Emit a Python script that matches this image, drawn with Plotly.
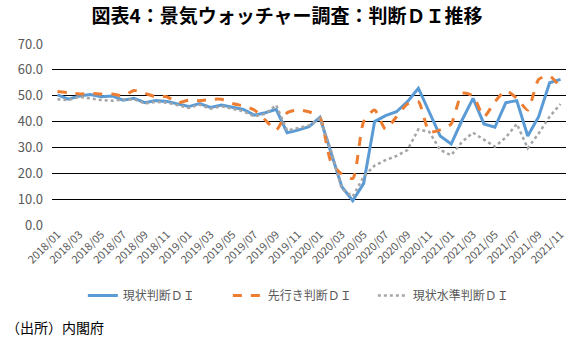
import plotly.graph_objects as go

months = [f"{y}/{m:02d}" for y in range(2018, 2022) for m in range(1, 13)][:47]

current_di = [50.3, 48.7, 49.9, 50.5, 49.6, 49.9, 48.3, 49.0, 47.3, 48.1, 47.8, 46.8,
              45.8, 47.0, 45.5, 46.4, 45.5, 44.7, 42.5, 43.4, 44.7, 35.7, 36.7, 38.0,
              41.6, 28.5, 14.8, 9.4, 16.1, 40.0, 42.3, 43.8, 47.7, 52.9, 43.7, 34.4,
              31.3, 40.6, 49.0, 39.1, 37.8, 47.3, 48.1, 34.4, 41.9, 55.0, 56.3]

future_di = [51.6, 51.2, 50.7, 50.9, 50.7, 50.7, 49.9, 52.0, 50.9, 49.6, 49.6, 47.3,
             48.3, 48.1, 48.6, 48.6, 47.0, 46.0, 44.5, 40.6, 36.7, 43.4, 44.5, 43.8,
             41.6, 24.5, 19.7, 18.0, 40.0, 44.5, 37.0, 41.9, 46.8, 47.7, 36.0, 36.8,
             39.1, 50.9, 49.9, 41.9, 47.7, 51.9, 49.0, 44.5, 56.3, 57.6, 53.2]

level_di = [48.6, 48.3, 49.6, 49.0, 48.3, 48.1, 48.5, 48.6, 47.0, 47.6, 47.3, 46.3,
            45.3, 46.5, 45.0, 45.9, 45.0, 44.0, 42.0, 43.0, 46.4, 36.5, 37.5, 38.5,
            41.2, 29.0, 14.0, 11.0, 18.7, 23.0, 25.1, 26.7, 29.0, 37.0, 36.0, 29.0,
            27.0, 32.2, 35.7, 32.9, 30.3, 33.9, 39.1, 29.7, 35.4, 41.9, 46.8]

tick_labels = months[::2]

fig = go.Figure()
fig.add_trace(go.Scatter(x=months, y=current_di, mode="lines", name="現状判断ＤＩ",
                         line=dict(color="#5B9BD5", width=3)))
fig.add_trace(go.Scatter(x=months, y=future_di, mode="lines", name="先行き判断ＤＩ",
                         line=dict(color="#ED7D31", width=3, dash="dash",
                                   shape="spline", smoothing=0.6)))
fig.add_trace(go.Scatter(x=months, y=level_di, mode="lines", name="現状水準判断ＤＩ",
                         line=dict(color="#A5A5A5", width=2.5, dash="dot")))

font_family = "Noto Sans CJK JP, Noto Sans, sans-serif"

fig.update_layout(
    width=574, height=344,
    margin=dict(l=52, r=8, t=44, b=119),
    paper_bgcolor="white", plot_bgcolor="white",
    font=dict(family=font_family, color="#595959", size=12),
    title=dict(text="<b>図表4：景気ウォッチャー調査：判断ＤＩ推移</b>",
               x=0.5, xanchor="center", y=0.952, yanchor="middle",
               font=dict(family=font_family, size=19, color="#000000")),
    showlegend=True,
    legend=dict(orientation="h", x=0.06, xanchor="left", y=-0.39, yanchor="middle",
                font=dict(size=12, color="#595959"), bgcolor="rgba(0,0,0,0)",
                itemwidth=30, tracegroupgap=0, entrywidth=100, entrywidthmode="pixels"),
    xaxis=dict(type="category", range=[-0.5, 46.5], tickmode="array",
               tickvals=tick_labels, ticktext=tick_labels, tickangle=-45,
               tickfont=dict(size=11, color="#595959"), showgrid=False,
               showline=False, ticks="", zeroline=False),
    yaxis=dict(range=[0, 70], dtick=10, tickformat=".1f", showgrid=True,
               gridcolor="#000000", gridwidth=1, zeroline=False, showline=False,
               tickfont=dict(size=13, color="#595959"), ticks="", ticklabelstandoff=8),
    annotations=[dict(text="（出所）内閣府", xref="paper", yref="paper",
                      x=-0.094, y=-0.565, xanchor="left", yanchor="middle",
                      showarrow=False, font=dict(size=14, color="#000000"))],
)

fig.write_html("out.html")
